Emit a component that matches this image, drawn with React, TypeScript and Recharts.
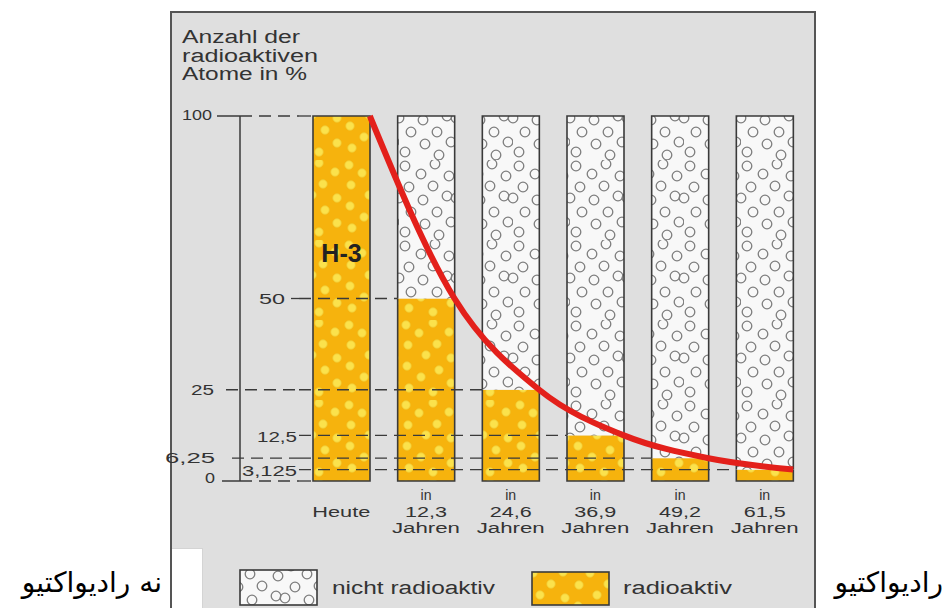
import React from "react";
import {
    ComposedChart,
    Bar,
    Line,
    XAxis,
    YAxis,
    ReferenceLine,
    LabelList,
} from "recharts";

// values
const years = ["Heute", "12,3", "24,6", "36,9", "49,2", "61,5"];
const radioaktiv = [100, 50, 25, 12.5, 6.25, 3.125];
const nichtRadioaktiv = [0, 50, 75, 87.5, 93.75, 96.875];
const decayCurve = [100, 50, 25, 12.5, 6.25, 3.125];
const yTicks = [0, 3.125, 6.25, 12.5, 25, 50, 100];
const yTickLabels = ["0", "3,125", "6,25", "12,5", "25", "50", "100"];
const titleLines = ["Anzahl der", "radioaktiven", "Atome in %"];

const W = 948;
const H = 608;
const PLOT_LEFT = 299;
const PLOT_RIGHT = 807;
const PLOT_TOP = 116;
const PLOT_BOTTOM = 481;
const BAR_SIZE = 57;
const BAND = (PLOT_RIGHT - PLOT_LEFT) / years.length;
const HALF_BAR = BAR_SIZE / 2 / BAND;
const BRACKET_DX = -59;

const FONT = "'Liberation Sans', Arial, sans-serif";
const INK = "#333";
const ORANGE = "#f6b30d";

const chartData = years.map((year, i) => ({
    year,
    radioaktiv: radioaktiv[i],
    nichtRadioaktiv: nichtRadioaktiv[i],
}));

// the decay curve meets each orange column at its upper right corner
const curveData = decayCurve.map((v, i) => ({ t: i + HALF_BAR, v }));

// label placement for each y tick, relative to the plot's left edge
const yTickStyle = [
    { right: -84, width: 10, base: 2, dash: BRACKET_DX, solid: -77 },
    { right: -2, width: 55, base: 6, dash: 0 },
    { right: -84, width: 50, base: 5, dash: -67 },
    { right: -2, width: 40, base: 7, dash: 0 },
    { right: -85, width: 23, base: 5, dash: -73 },
    { right: -14, width: 26, base: 5, dash: -8 },
    { right: -87, width: 30, base: 4, dash: BRACKET_DX, solid: -82 },
];

const radioDots = [
    [7, 5], [34, 3], [50, 12], [20, 13], [9, 25], [38, 24], [27, 35], [52, 38],
    [8, 46], [40, 50], [22, 57], [52, 63], [10, 68], [34, 72],
];
const emptyDots = [
    [6, 6], [36, 4], [22, 14], [50, 16], [10, 27], [34, 26], [0, 38], [24, 40],
    [48, 36], [12, 52], [38, 52], [26, 64], [52, 62], [6, 72], [40, 75], [57, 38],
];

function Patterns() {
    return (
        <defs>
            <pattern id="radioPat" width={57} height={80} patternUnits="userSpaceOnUse">
                <rect width={57} height={80} fill={ORANGE} />
                {radioDots.map(([cx, cy], i) => (
                    <circle key={i} cx={cx} cy={cy} r={4.2} fill="#fbe24c" stroke="#f1cc32" strokeWidth={0.8} />
                ))}
            </pattern>
            <pattern id="emptyPat" width={57} height={80} patternUnits="userSpaceOnUse">
                <rect width={57} height={80} fill="#f8f8f8" />
                {emptyDots.map(([cx, cy], i) => (
                    <circle key={i} cx={cx} cy={cy} r={4.8} fill="none" stroke="#7e7e7e" strokeWidth={1.3} />
                ))}
            </pattern>
        </defs>
    );
}

function RadioShape(props: any) {
    const { x, y, width, height, payload } = props;
    if (!height) return null;
    const closed = payload.nichtRadioaktiv === 0;
    const d = closed
        ? `M${x},${y + height} L${x},${y} L${x + width},${y} L${x + width},${y + height} Z`
        : `M${x},${y} L${x},${y + height} L${x + width},${y + height} L${x + width},${y}`;
    return (
        <g>
            <rect x={x} y={y} width={width} height={height} fill="url(#radioPat)" />
            <path d={d} fill="none" stroke="#3a3a3a" strokeWidth={1.6} />
        </g>
    );
}

function EmptyShape(props: any) {
    const { x, y, width, height } = props;
    if (!height) return null;
    return (
        <g>
            <rect x={x} y={y} width={width} height={height} fill="url(#emptyPat)" />
            <path
                d={`M${x},${y + height} L${x},${y} L${x + width},${y} L${x + width},${y + height}`}
                fill="none"
                stroke="#3a3a3a"
                strokeWidth={1.6}
            />
        </g>
    );
}

function YTick(props: any) {
    const { x, y, payload } = props;
    const i = yTicks.indexOf(payload.value);
    if (i < 0) return null;
    const s = yTickStyle[i];
    return (
        <g>
            <text
                x={x + s.right}
                y={y + s.base}
                textAnchor="end"
                textLength={s.width}
                lengthAdjust="spacingAndGlyphs"
                fontFamily={FONT}
                fontSize={15}
                fill={INK}
            >
                {yTickLabels[i]}
            </text>
            {s.solid !== undefined && (
                <line x1={x + s.solid} x2={x + BRACKET_DX} y1={y} y2={y} stroke="#3a3a3a" strokeWidth={1.5} />
            )}
            {s.dash < 0 && (
                <line
                    x1={x + s.dash}
                    x2={x}
                    y1={y}
                    y2={y}
                    stroke="#3a3a3a"
                    strokeWidth={1.3}
                    strokeDasharray="12 7"
                />
            )}
            {payload.value === 100 && (
                <line
                    x1={x + BRACKET_DX}
                    x2={x + BRACKET_DX}
                    y1={y}
                    y2={PLOT_BOTTOM}
                    stroke="#3a3a3a"
                    strokeWidth={1.5}
                />
            )}
        </g>
    );
}

function XTick(props: any) {
    const { x, y, payload } = props;
    const label = String(payload.value);
    const txt = (s: string, dy: number, w: number) => (
        <text
            x={x}
            y={y + dy}
            textAnchor="middle"
            textLength={w}
            lengthAdjust="spacingAndGlyphs"
            fontFamily={FONT}
            fontSize={14}
            fill={INK}
        >
            {s}
        </text>
    );
    if (label === "Heute") return <g>{txt(label, 36, 58)}</g>;
    return (
        <g>
            {txt("in", 19, 11)}
            {txt(label, 36, 42)}
            {txt("Jahren", 52, 68)}
        </g>
    );
}

function H3Label(props: any) {
    const { index } = props;
    if (index !== 0) return null;
    const vb = props.viewBox || props;
    return (
        <text
            x={vb.x + vb.width / 2}
            y={vb.y + vb.height * 0.4}
            textAnchor="middle"
            fontFamily={FONT}
            fontWeight="bold"
            fontSize={25}
            fill="#222"
        >
            H-3
        </text>
    );
}

const persianStyle: React.CSSProperties = {
    position: "absolute",
    top: 568,
    height: 30,
    lineHeight: "30px",
    textAlign: "right",
    fontFamily: "'DejaVu Sans', sans-serif",
    fontSize: 28,
    color: "#000",
    whiteSpace: "nowrap",
};

export default function App() {
    const guideEnds = yTicks.map((v) => (v === 0 ? 0 : radioaktiv.indexOf(v)));
    return (
        <div style={{ position: "absolute", left: 0, top: 0, width: W, height: H, background: "#fff", overflow: "hidden" }}>
            <div
                style={{
                    position: "absolute",
                    left: 170,
                    top: 11,
                    width: 646,
                    height: 610,
                    boxSizing: "border-box",
                    background: "#dfdfdf",
                    borderLeft: "2px solid #555",
                    borderTop: "2px solid #555",
                    borderRight: "2px solid #555",
                }}
            />
            <div
                style={{
                    position: "absolute",
                    left: 172,
                    top: 548,
                    width: 30,
                    height: 70,
                    background: "#fff",
                    borderTop: "1px solid #d4d4d4",
                    borderRight: "1px solid #d4d4d4",
                }}
            />
            <div dir="rtl" style={{ ...persianStyle, left: 0, width: 162 }}>
                نه رادیواکتیو
            </div>
            <div dir="rtl" style={{ ...persianStyle, left: 800, width: 143 }}>
                رادیواکتیو
            </div>

            <div style={{ position: "absolute", left: 0, top: 0 }}>
                <ComposedChart
                    width={W}
                    height={H}
                    data={chartData}
                    margin={{ top: PLOT_TOP, right: W - PLOT_RIGHT, bottom: 67, left: PLOT_LEFT - 140 }}
                >
                    <Patterns />
                    <XAxis
                        dataKey="year"
                        type="category"
                        axisLine={false}
                        tickLine={false}
                        tickSize={0}
                        tickMargin={0}
                        height={60}
                        interval={0}
                        tick={<XTick />}
                    />
                    <XAxis
                        xAxisId="t"
                        dataKey="t"
                        type="number"
                        domain={[-0.5, years.length - 0.5]}
                        hide
                    />
                    <Bar
                        dataKey="radioaktiv"
                        stackId="a"
                        barSize={BAR_SIZE}
                        shape={<RadioShape />}
                        isAnimationActive={false}
                    >
                        <LabelList dataKey="radioaktiv" content={<H3Label />} />
                    </Bar>
                    <Bar
                        dataKey="nichtRadioaktiv"
                        stackId="a"
                        barSize={BAR_SIZE}
                        shape={<EmptyShape />}
                        isAnimationActive={false}
                    />
                    {yTicks.map((v, i) => (
                        <ReferenceLine
                            key={v}
                            xAxisId="t"
                            segment={[
                                { x: -0.5, y: v },
                                { x: guideEnds[i] - HALF_BAR, y: v },
                            ]}
                            stroke="#3a3a3a"
                            strokeWidth={1.3}
                            strokeDasharray="12 7"
                        />
                    ))}
                    <YAxis
                        type="number"
                        domain={[0, 100]}
                        ticks={yTicks}
                        interval={0}
                        width={140}
                        axisLine={false}
                        tickLine={false}
                        tickSize={0}
                        tickMargin={0}
                        tick={<YTick />}
                    />
                    <Line
                        xAxisId="t"
                        data={curveData}
                        dataKey="v"
                        type="monotone"
                        stroke="#e3201b"
                        strokeWidth={6}
                        dot={false}
                        isAnimationActive={false}
                    />
                </ComposedChart>
            </div>

            <svg width={W} height={H} style={{ position: "absolute", left: 0, top: 0, pointerEvents: "none" }}>
                {titleLines.map((t, i) => (
                    <text
                        key={t}
                        x={182}
                        y={43 + i * 18.5}
                        textLength={[118, 136, 125][i]}
                        lengthAdjust="spacingAndGlyphs"
                        fontFamily={FONT}
                        fontSize={18}
                        fill={INK}
                    >
                        {t}
                    </text>
                ))}
                <rect x={240} y={570} width={77} height={35} fill="url(#emptyPat)" stroke="#3a3a3a" strokeWidth={1.6} />
                <text x={332} y={594} textLength={163} lengthAdjust="spacingAndGlyphs" fontFamily={FONT} fontSize={18} fill={INK}>
                    nicht radioaktiv
                </text>
                <rect x={532} y={572} width={77} height={33} fill="url(#radioPat)" stroke="#3a3a3a" strokeWidth={1.6} />
                <text x={623} y={594} textLength={109} lengthAdjust="spacingAndGlyphs" fontFamily={FONT} fontSize={18} fill={INK}>
                    radioaktiv
                </text>
            </svg>
        </div>
    );
}
